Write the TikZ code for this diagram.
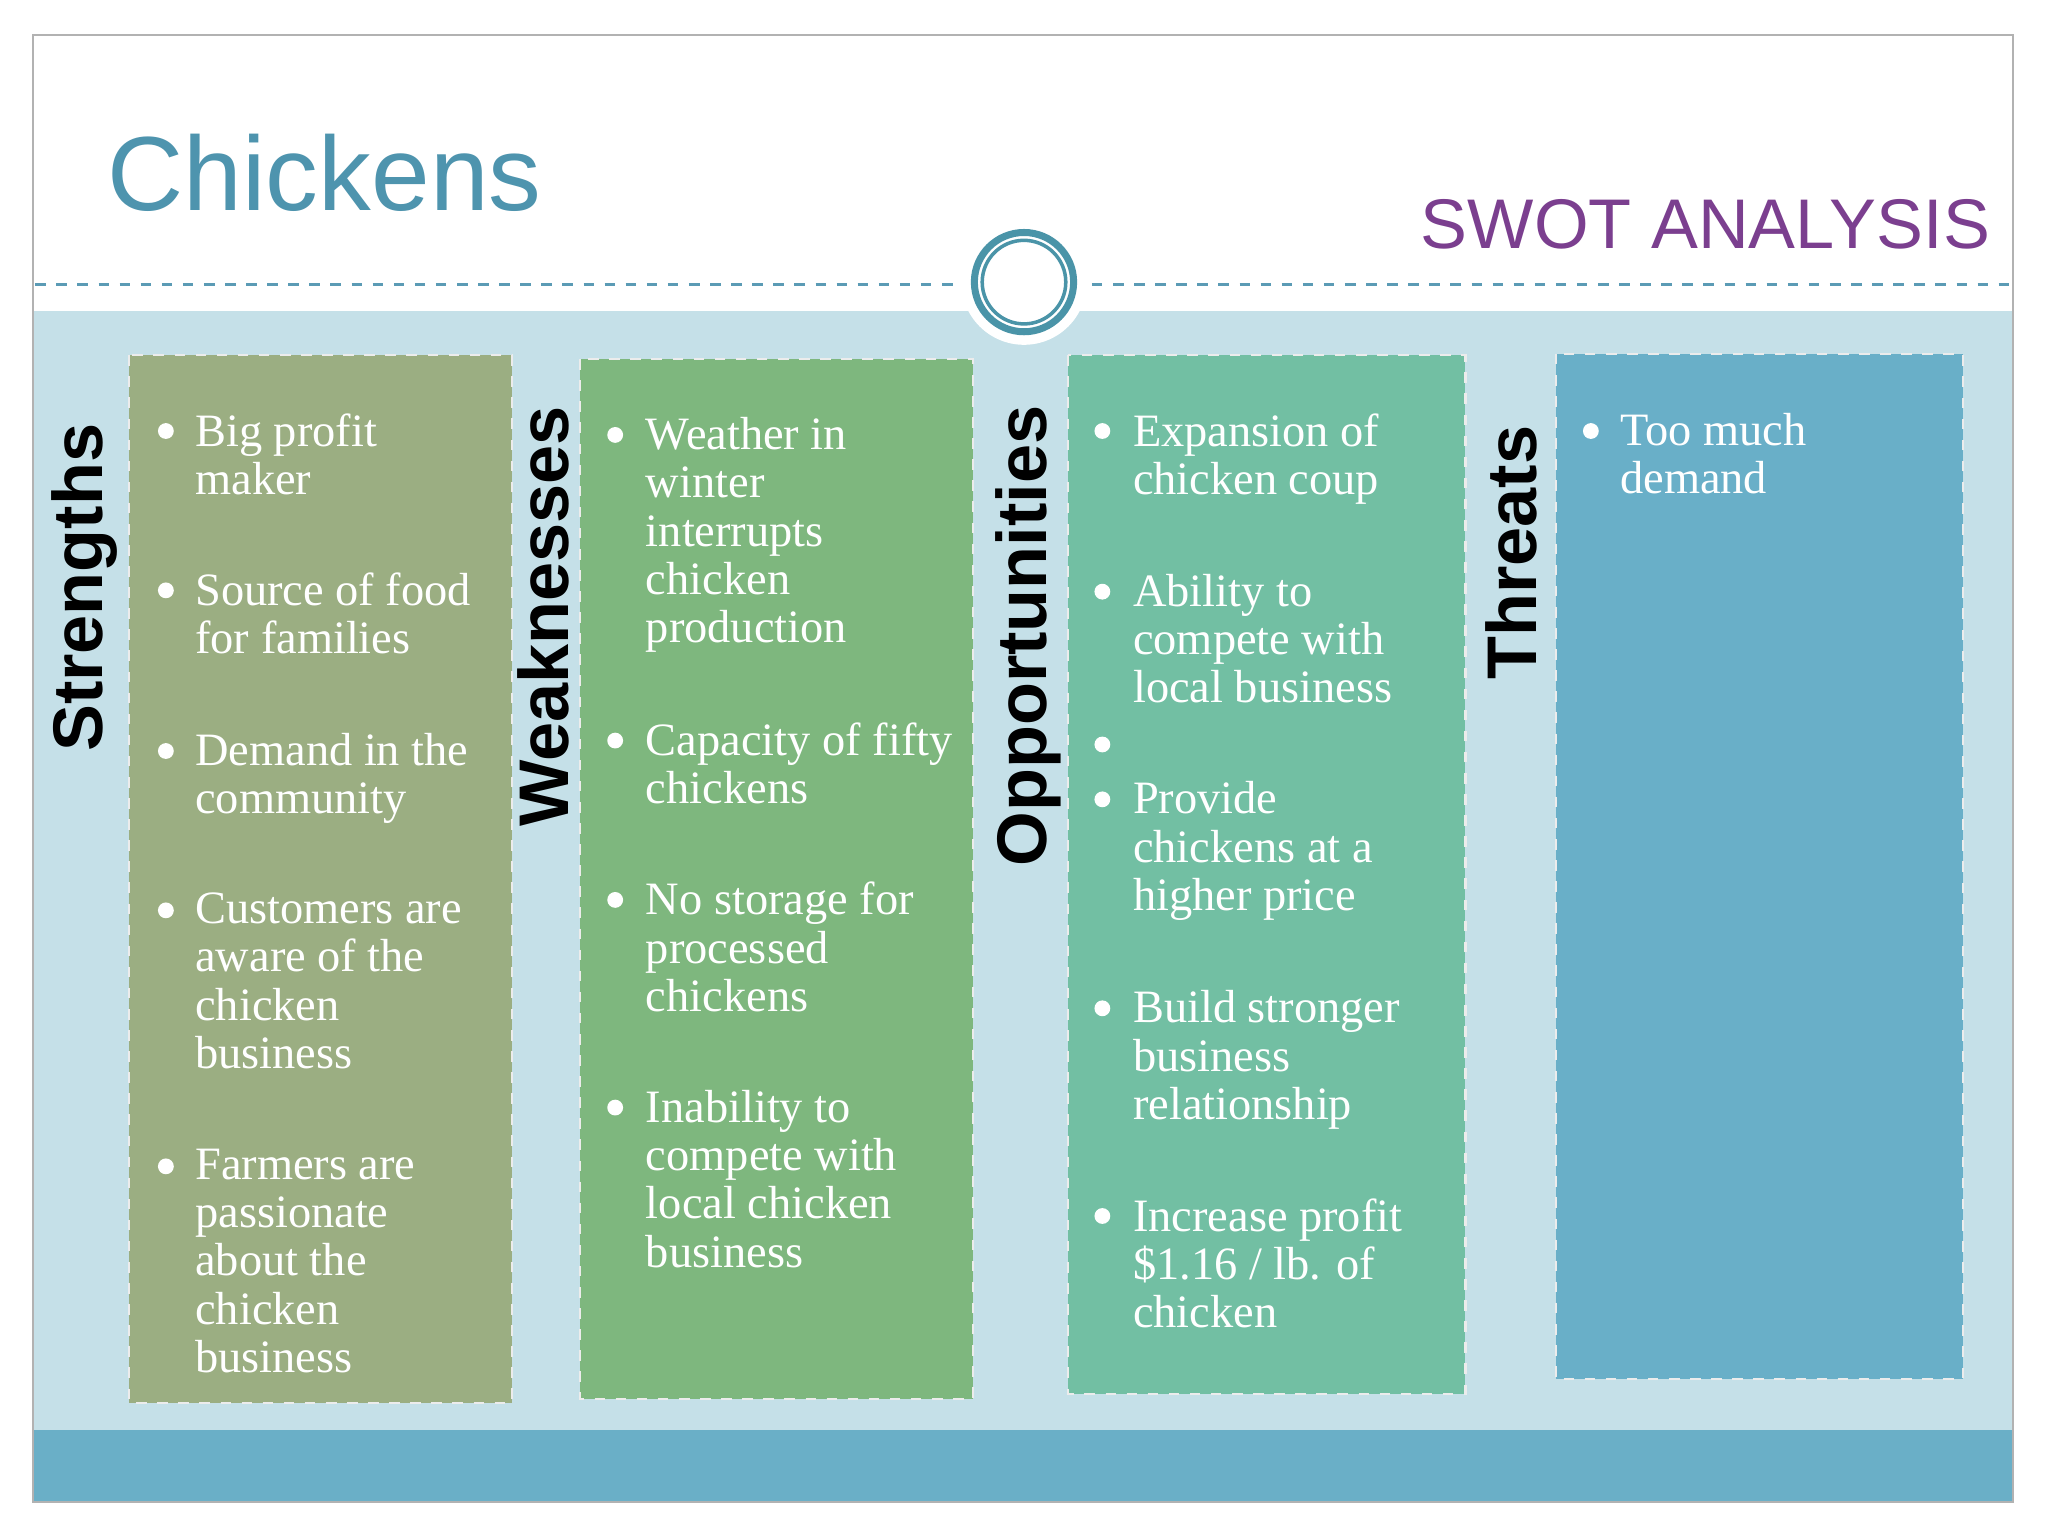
\documentclass[tikz,border=0pt]{standalone}
\usepackage{fontspec}
\setmainfont{Liberation Serif}
\newfontfamily\sansf{Liberation Sans}
\begin{document}
\begin{tikzpicture}[x=0.013061cm,y=-0.013061cm,
 box/.style={draw=white!85!gray,dashed,line width=0.6pt},
 item/.style={anchor=north west,inner sep=0pt,align=left,text=white,font=\fontsize{13.2}{13.75}\selectfont},
 bul/.style={circle,fill=white,inner sep=0pt,minimum size=4.5pt},
 side/.style={rotate=90,font=\sansf\bfseries\fontsize{20}{22}\selectfont,text=black}]
\useasboundingbox (0,0) rectangle (1568,1176);
\fill[white] (0,0) rectangle (1568,1176);
\fill[fill={rgb,255:red,197;green,224;blue,232}] (25,238) rectangle (1541,1095);
\fill[fill={rgb,255:red,106;green,175;blue,199}] (25,1095) rectangle (1541,1150);
\draw[gray!60,line width=0.6pt] (25,27) rectangle (1541,1150);
\draw[dashed,color={rgb,255:red,91;green,155;blue,181},line width=0.8pt] (27,218) -- (730,218) (836,218) -- (1540,218);
\fill[white] (784,216) circle (48);
\draw[color={rgb,255:red,74;green,148;blue,168},line width=2pt] (784,216) circle (38);
\draw[color={rgb,255:red,74;green,148;blue,168},line width=1pt] (784,216) circle (32);
\node[anchor=west,inner sep=0pt,font=\sansf\fontsize{30}{34}\selectfont,text={rgb,255:red,78;green,148;blue,174}] (title) at (82,132) {Chickens};
\node[anchor=east,inner sep=0pt,font=\sansf\fontsize{20}{24}\selectfont,text={rgb,255:red,123;green,63;blue,143}] (swot) at (1524,172) {SWOT ANALYSIS};
\fill[fill={rgb,255:red,155;green,174;blue,130}] (99,272) rectangle (392,1074);
\draw[box] (99,272) rectangle (392,1074);
\fill[fill={rgb,255:red,126;green,183;blue,126}] (444,275) rectangle (745,1071);
\draw[box] (444,275) rectangle (745,1071);
\fill[fill={rgb,255:red,114;green,191;blue,163}] (818,272) rectangle (1122,1067);
\draw[box] (818,272) rectangle (1122,1067);
\fill[fill={rgb,255:red,105;green,175;blue,200}] (1191,271) rectangle (1503,1056);
\draw[box] (1191,271) rectangle (1503,1056);
\node[side] (ls) at (65,450) {Strengths};
\node[side] (lw) at (416,472) {Weaknesses};
\node[side] (lo) at (787,487) {Opportunities};
\node[side] (lt) at (1157,423) {Threats};
\foreach \y/\t [count=\i] in {330/{Big profit\\maker},452/{Source of food\\for families},575/{Demand in the\\community},697/{Customers are\\aware of the\\chicken\\business},893/{Farmers are\\passionate\\about the\\chicken\\business}}{
 \node[bul] (sb\i) at (127,\y) {};
 \node[item] (s\i) at (149,\y-14) {\t};}
\foreach \y/\t [count=\i] in {333/{Weather in\\winter\\interrupts\\chicken\\production},567/{Capacity of fifty\\chickens},689/{No storage for\\processed\\chickens},848/{Inability to\\compete with\\local chicken\\business}}{
 \node[bul] (wb\i) at (471,\y) {};
 \node[item] (w\i) at (494,\y-14) {\t};}
\foreach \y/\t [count=\i] in {330/{Expansion of\\chicken coup},453/{Ability to\\compete with\\local business},612/{Provide\\chickens at a\\higher price},772/{Build stronger\\business\\relationship},931/{Increase profit\\\$1.16 / lb. of\\chicken}}{
 \node[bul] (ob\i) at (844,\y) {};
 \node[item] (o\i) at (867,\y-14) {\t};}
\node[bul] (ob0) at (844,570) {};
\node[bul] (tb1) at (1218,330) {};
\node[item] (t1) at (1240,316) {Too much\\demand};
\end{tikzpicture}
\end{document}
